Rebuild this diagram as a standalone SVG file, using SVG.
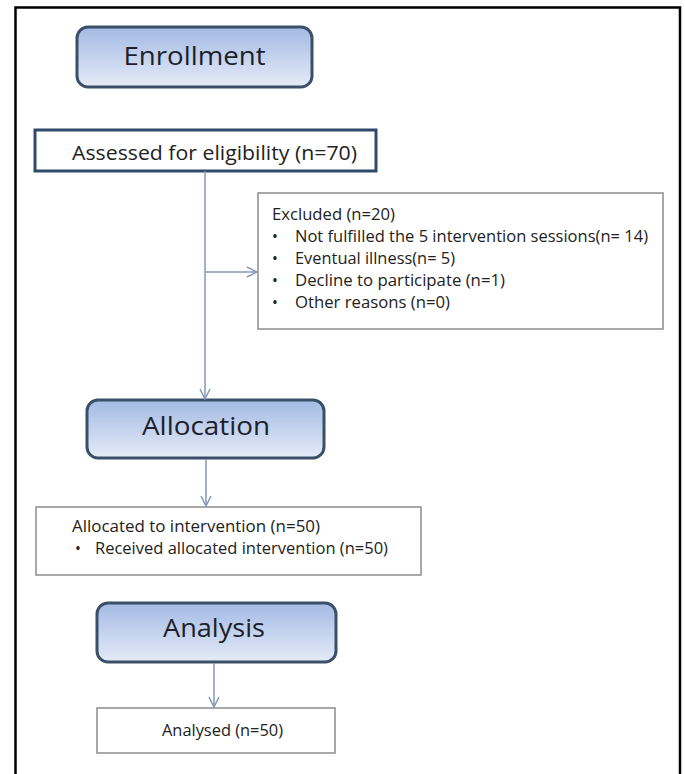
<svg xmlns="http://www.w3.org/2000/svg" width="685" height="774" viewBox="0 0 685 774">
<style>
.frame{fill:none;stroke:#000;stroke-width:2.5}
.title rect{stroke:#3b5068;stroke-width:3;fill:url(#g)}
.title text{font-family:"Open Sans","Liberation Sans",sans-serif;font-size:26px;fill:#1d1f2b;text-anchor:middle}
.box rect{fill:#fff;stroke:#8c8c8c;stroke-width:1.5}
.box text{font-family:"Open Sans","Liberation Sans",sans-serif;font-size:15.5px;fill:#222}
.conn line{stroke:#8299b7;stroke-width:1.5;fill:none}
</style>
<defs>
<linearGradient id="g" x1="0" y1="0" x2="0" y2="1">
<stop offset="0" stop-color="#a3bae4"/>
<stop offset="1" stop-color="#e5ebf7"/>
</linearGradient>
<marker id="ah" viewBox="0 0 12 12" refX="11" refY="6" markerWidth="12" markerHeight="12" markerUnits="userSpaceOnUse" orient="auto">
<path d="M1,1 L11,6 L1,11" fill="none" stroke="#8299b7" stroke-width="1.5"/>
</marker>
</defs>
<rect width="685" height="774" fill="#fff"/>
<path class="frame" d="M15.5,774 V7.5 H680 V774"/>

<g id="enrollment" class="title">
<rect x="77" y="27" width="235" height="60" rx="11"/>
<text x="194.5" y="65" textLength="142" lengthAdjust="spacingAndGlyphs">Enrollment</text>
</g>

<g id="assessed" class="box">
<rect x="35" y="130" width="341" height="41" style="stroke:#2f4a6b;stroke-width:3"/>
<text x="72" y="160" style="font-size:20px" textLength="285" lengthAdjust="spacingAndGlyphs">Assessed for eligibility (n=70)</text>
</g>

<g id="excluded" class="box">
<rect x="258" y="193" width="405" height="136"/>
<text x="272" y="220" textLength="123" lengthAdjust="spacingAndGlyphs">Excluded (n=20)</text>
<text x="272" y="242">•</text>
<text x="295" y="242" textLength="353" lengthAdjust="spacingAndGlyphs">Not fulfilled the 5 intervention sessions(n= 14)</text>
<text x="272" y="264">•</text>
<text x="295" y="264" textLength="160" lengthAdjust="spacingAndGlyphs">Eventual illness(n= 5)</text>
<text x="272" y="286">•</text>
<text x="295" y="286" textLength="210" lengthAdjust="spacingAndGlyphs">Decline to participate (n=1)</text>
<text x="272" y="308">•</text>
<text x="295" y="308" textLength="155" lengthAdjust="spacingAndGlyphs">Other reasons (n=0)</text>
</g>

<g id="allocation" class="title">
<rect x="87" y="400" width="237" height="58" rx="11"/>
<text x="206" y="435" textLength="128" lengthAdjust="spacingAndGlyphs">Allocation</text>
</g>

<g id="allocated" class="box">
<rect x="36" y="507" width="385" height="68"/>
<text x="72" y="532" textLength="248" lengthAdjust="spacingAndGlyphs">Allocated to intervention (n=50)</text>
<text x="75" y="554">•</text>
<text x="95" y="554" textLength="293" lengthAdjust="spacingAndGlyphs">Received allocated intervention (n=50)</text>
</g>

<g id="analysis" class="title">
<rect x="97" y="603" width="239" height="59" rx="11"/>
<text x="214" y="637" textLength="102" lengthAdjust="spacingAndGlyphs">Analysis</text>
</g>

<g id="analysed" class="box">
<rect x="97" y="708" width="238" height="45"/>
<text x="162" y="736" textLength="121" lengthAdjust="spacingAndGlyphs">Analysed (n=50)</text>
</g>

<g id="connectors" class="conn">
<line x1="205" y1="171" x2="205" y2="399" marker-end="url(#ah)"/>
<line x1="205" y1="272" x2="257" y2="272" marker-end="url(#ah)"/>
<line x1="206" y1="459" x2="206" y2="506" marker-end="url(#ah)"/>
<line x1="214" y1="663" x2="214" y2="707" marker-end="url(#ah)"/>
</g>
</svg>
